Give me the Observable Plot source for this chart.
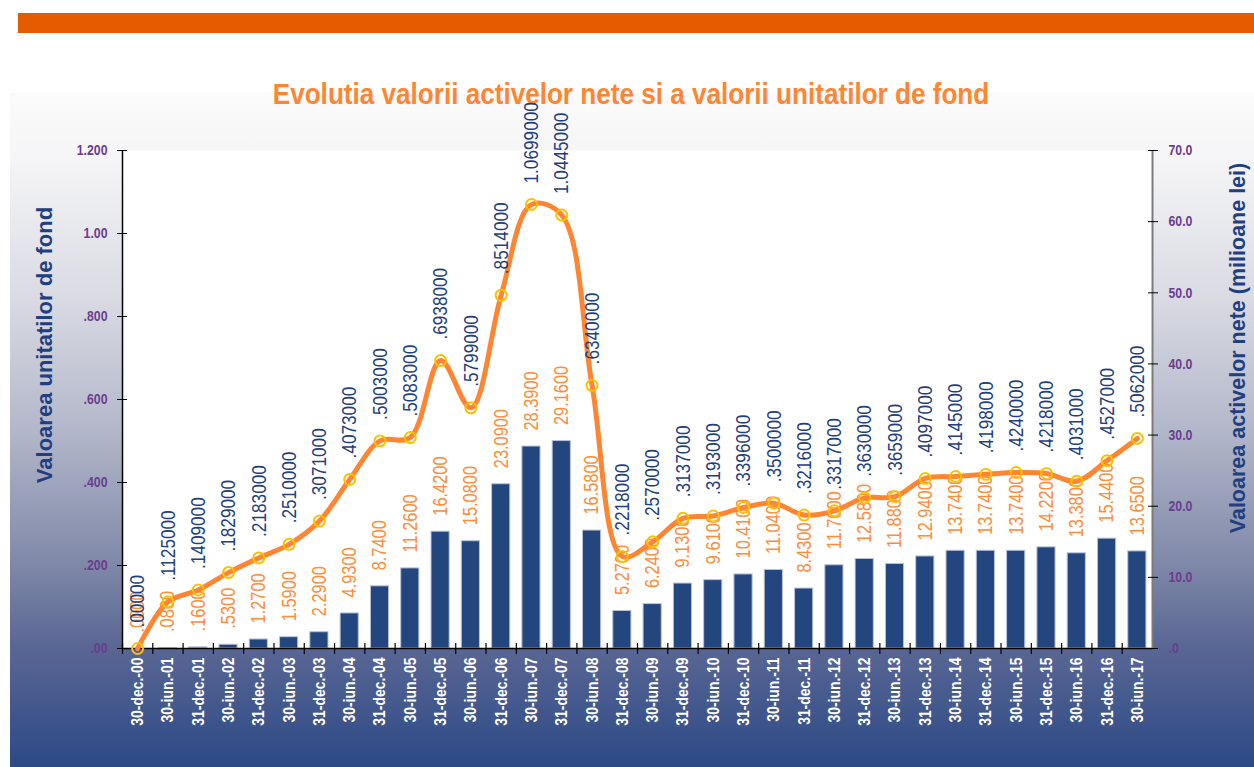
<!DOCTYPE html>
<html><head><meta charset="utf-8">
<script src="https://cdn.jsdelivr.net/npm/d3@7"></script>
<script src="https://cdn.jsdelivr.net/npm/@observablehq/plot@0.6"></script>
<style>
body{margin:0;background:#fff;}
#wrap{position:relative;width:1254px;height:767px;overflow:hidden;font-family:"Liberation Sans",Arial,sans-serif;}
#band{position:absolute;left:18px;top:13px;width:1236px;height:20px;background:#e55b00;}
#panel{position:absolute;left:10px;top:93px;width:1244px;height:674px;
background:linear-gradient(to bottom,#fbfbfb 0%,#f5f5f7 10%,#dadbe3 30%,#b3b7ca 50%,#7f88a8 70%,#5a6794 82%,#2c4986 100%);}
#title{position:absolute;left:0;width:1262px;top:78px;text-align:center;font-weight:bold;font-size:29px;color:#ff8533;white-space:nowrap;transform:scaleX(0.9);}
.ytitle{position:absolute;width:500px;text-align:center;font-weight:bold;font-size:22px;color:#1f3f80;transform:rotate(-90deg);white-space:nowrap;line-height:26px;}
#chart{position:absolute;left:0;top:0;}
</style></head>
<body>
<div id="wrap">
  <div id="band"></div>
  <div id="panel"></div>
  <div id="title">Evolutia valorii activelor nete si a valorii unitatilor de fond</div>
  <div class="ytitle" style="left:-205px;top:332px;">Valoarea unitatilor de fond</div>
  <div class="ytitle" style="left:988px;top:335px;font-size:21.5px;">Valoarea activelor nete (milioane lei)</div>
  <div id="chart"></div>
</div>
<script>
const dates = ["30-dec.-00","30-iun.-01","31-dec.-01","30-iun.-02","31-dec.-02","30-iun.-03","31-dec.-03","30-iun.-04","31-dec.-04","30-iun.-05","31-dec.-05","30-iun.-06","31-dec.-06","30-iun.-07","31-dec.-07","30-iun.-08","31-dec.-08","30-iun.-09","31-dec.-09","30-iun.-10","31-dec.-10","30-iun.-11","31-dec.-11","30-iun.-12","31-dec.-12","30-iun.-13","31-dec.-13","30-iun.-14","31-dec.-14","30-iun.-15","31-dec.-15","30-iun.-16","31-dec.-16","30-iun.-17"];
const unitValues = [0,0.1125,0.1409,0.1829,0.2183,0.2510,0.3071,0.4073,0.5003,0.5083,0.6938,0.5799,0.8514,1.0699,1.0445,0.6340,0.2218,0.2570,0.3137,0.3193,0.3396,0.3500,0.3216,0.3317,0.3630,0.3659,0.4097,0.4145,0.4198,0.4240,0.4218,0.4031,0.4527,0.5062];
const netAssets = [0,0.08,0.16,0.53,1.27,1.59,2.29,4.93,8.74,11.26,16.42,15.08,23.09,28.39,29.16,16.58,5.27,6.24,9.13,9.61,10.41,11.04,8.43,11.70,12.58,11.88,12.94,13.74,13.74,13.74,14.22,13.38,15.44,13.65];
const leftTicks = [0,0.2,0.4,0.6,0.8,1.0,1.2];
const leftTickLabels = [".00",".200",".400",".600",".800","1.00","1.200"];
const rightTicks = [0,10,20,30,40,50,60,70];
const rightTickLabels = [".0","10.0","20.0","30.0","40.0","50.0","60.0","70.0"];

const leftMax = 1.2, rightMax = 70, k = rightMax / leftMax;
const data = dates.map((d, i) => ({date: d, unit: unitValues[i], nav: netAssets[i]}));
const fmtUnit = v => v === 0 ? ".00000" : d3.format(".7f")(v).replace(/^0\./, ".");
const fmtNav = v => d3.format(".4f")(v).replace(/^0\./, ".");

const W = 1254, H = 767, mL = 122, mR = 102, mT = 150, mB = 119;
const pIn = 0.4, pOut = 0.2;
const step = (W - mL - mR) / (dates.length - pIn + 2 * pOut);
const purple = "#6a3d8e";

const chart = Plot.plot({
  width: W, height: H, marginLeft: mL, marginRight: mR, marginTop: mT, marginBottom: mB,
  style: {background: "transparent", overflow: "visible", fontFamily: '"Liberation Sans",Arial,sans-serif'},
  x: {type: "band", domain: dates, paddingInner: pIn, paddingOuter: pOut, round: false, axis: null},
  y: {domain: [0, rightMax], axis: null},
  marks: [
    Plot.frame({fill: "white", stroke: "none"}),
    Plot.barY(data, {x: "date", y: "nav", fill: "#24467f", stroke: "#b9c3da", strokeWidth: 1}),
    Plot.ruleY([0], {stroke: "black", strokeWidth: 1.5}),
    Plot.ruleX(dates, {x: d => d, dx: -step / 2, y1: 0, y2: 0, insetTop: -5, insetBottom: -6, stroke: "black", strokeWidth: 1.2}),
    Plot.ruleX([dates[0]], {x: d => d, dx: -step / 2, y1: 0, y2: rightMax, stroke: "black", strokeWidth: 1.5}),
    Plot.ruleX([dates[dates.length - 1]], {x: d => d, dx: step / 2, y1: 0, y2: rightMax, stroke: "#7a7a7a", strokeWidth: 2}),
    Plot.axisY(leftTicks.map(v => v * k), {anchor: "left", label: null, tickSize: 10, dx: 5, tickFormat: () => "", stroke: "black"}),
    Plot.axisY(leftTicks.map(v => v * k), {anchor: "left", label: null, tickSize: 0, tickPadding: 15, tickFormat: (d, i) => leftTickLabels[i], fill: purple, fontSize: 15, fontWeight: "bold"}),
    Plot.axisY(rightTicks, {anchor: "right", label: null, tickSize: 10, dx: -5, tickFormat: () => "", stroke: "black"}),
    Plot.axisY(rightTicks, {anchor: "right", label: null, tickSize: 0, tickPadding: 16, tickFormat: (d, i) => rightTickLabels[i], fill: purple, fontSize: 15, fontWeight: "bold"}),
    Plot.axisX({anchor: "bottom", label: null, tickSize: 0, tickPadding: 9, tickRotate: -90, fill: "white", fontSize: 17, fontWeight: "bold"}),
    Plot.line(data, {x: "date", y: d => d.unit * k, stroke: "#ff8533", strokeWidth: 5, curve: "catmull-rom"}),
    Plot.text(data, {x: "date", y: "nav", text: d => fmtNav(d.nav), rotate: -90, textAnchor: "start", dy: -16, fill: "#ff8c3a", fontSize: 20}),
    Plot.text(data, {x: "date", y: d => d.unit * k, text: d => fmtUnit(d.unit), rotate: -90, textAnchor: "start", dy: -21, fill: "#1f3f80", fontSize: 21}),
    Plot.dot(data, {x: "date", y: d => d.unit * k, r: 5.5, stroke: "#ffc000", strokeWidth: 2, fill: "none"})
  ]
});
// condense every label glyph along its reading direction (narrow typeface look)
d3.select(chart).selectAll("text").each(function() {
  const t = this.getAttribute("transform");
  if (t) {
    this.setAttribute("transform", t + " scale(0.82,1)");
  } else {
    const x = +this.getAttribute("x") || 0, y = +this.getAttribute("y") || 0;
    this.removeAttribute("x"); this.removeAttribute("y");
    this.setAttribute("transform", `translate(${x},${y}) scale(0.82,1)`);
  }
});
document.getElementById("chart").appendChild(chart);
</script>
</body></html>
